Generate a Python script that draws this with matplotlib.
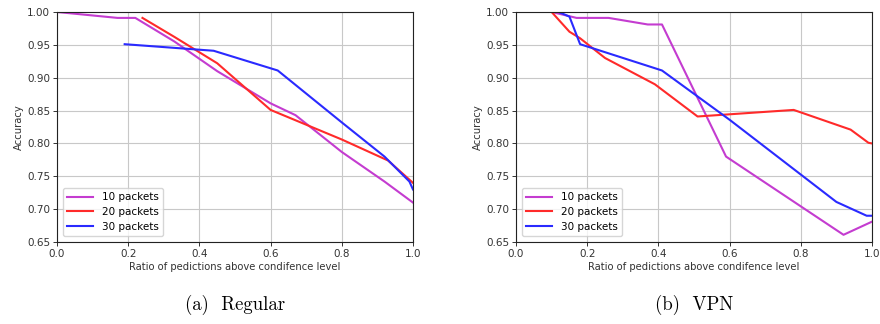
import matplotlib
matplotlib.use("Agg")
import matplotlib.pyplot as plt

# Regular
reg_x10 = [0.0, 0.17, 0.22, 0.33, 0.45, 0.60, 0.67, 0.80, 0.92, 1.0]
reg_y10 = [1.0, 0.991, 0.991, 0.955, 0.91, 0.861, 0.843, 0.787, 0.742, 0.71]
reg_x20 = [0.24, 0.33, 0.45, 0.60, 0.80, 0.93, 1.0]
reg_y20 = [0.991, 0.962, 0.922, 0.851, 0.806, 0.774, 0.74]
reg_x30 = [0.19, 0.44, 0.62, 0.80, 0.92, 0.99, 1.0]
reg_y30 = [0.951, 0.941, 0.911, 0.832, 0.78, 0.742, 0.73]

# VPN
vpn_x10 = [0.10, 0.17, 0.26, 0.37, 0.41, 0.59, 0.92, 1.0]
vpn_y10 = [1.0, 0.991, 0.991, 0.981, 0.981, 0.78, 0.661, 0.681]
vpn_x20 = [0.10, 0.15, 0.18, 0.25, 0.39, 0.51, 0.78, 0.94, 0.99, 1.0]
vpn_y20 = [1.0, 0.97, 0.96, 0.93, 0.89, 0.841, 0.851, 0.821, 0.801, 0.80]
vpn_x30 = [0.12, 0.15, 0.18, 0.41, 0.60, 0.90, 0.985, 1.0]
vpn_y30 = [1.0, 0.993, 0.951, 0.911, 0.836, 0.711, 0.69, 0.69]

labels = ["10 packets", "20 packets", "30 packets"]
colors = ["#c43cd0", "#ff2a2a", "#2a2aff"]
xticks = [0.0, 0.2, 0.4, 0.6, 0.8, 1.0]
yticks = [0.65, 0.70, 0.75, 0.80, 0.85, 0.90, 0.95, 1.00]
captions = ["(a)  Regular", "(b)  VPN"]

fig = plt.figure(figsize=(8.8, 3.24), dpi=100)
positions = [[0.0648, 0.253, 0.4045, 0.710], [0.5864, 0.253, 0.4045, 0.710]]
data = [
    [(reg_x10, reg_y10), (reg_x20, reg_y20), (reg_x30, reg_y30)],
    [(vpn_x10, vpn_y10), (vpn_x20, vpn_y20), (vpn_x30, vpn_y30)],
]
for pos, series, cap in zip(positions, data, captions):
    ax = fig.add_axes(pos)
    for (xs, ys), lab, c in zip(series, labels, colors):
        ax.plot(xs, ys, color=c, lw=1.5, label=lab)
    ax.set_xlim(0, 1)
    ax.set_ylim(0.65, 1.0)
    ax.set_xticks(xticks)
    ax.set_yticks(yticks)
    ax.set_xticklabels([f"{t:.1f}" for t in xticks])
    ax.set_yticklabels([f"{t:.2f}" for t in yticks])
    ax.grid(True, color="#c8c8c8", lw=0.8)
    ax.tick_params(labelsize=7.5, length=3, width=0.7, colors="#333333", pad=2)
    for s in ax.spines.values():
        s.set_color("#222222")
        s.set_linewidth(0.8)
    ax.set_xlabel("Ratio of pedictions above condifence level", fontsize=7.2, color="#333333", labelpad=2)
    ax.set_ylabel("Accuracy", fontsize=7.2, color="#333333", labelpad=2)
    leg = ax.legend(loc="lower left", fontsize=7.5, borderaxespad=0.6, handlelength=2.5,
                    labelspacing=0.45, frameon=True)
    leg.get_frame().set_edgecolor("#cccccc")
    x0 = pos[0] + pos[2] / 2
    fig.text(x0, 0.06, cap, ha="center", va="center", fontsize=13.5, family="cmr10")

fig.savefig("out.png", dpi=100)
